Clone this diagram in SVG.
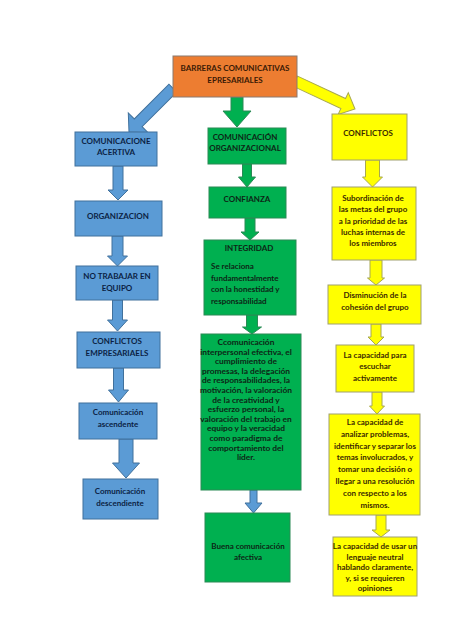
<svg xmlns="http://www.w3.org/2000/svg" width="474" height="632" viewBox="0 0 474 632">
<style>
text{font-family:Lato,"Liberation Sans",Arial,sans-serif;font-weight:bold;font-size:8px;text-anchor:middle}
.o rect{fill:#ED7D31;stroke:#8a7a70;stroke-width:1}
.o text{fill:#3a1a05}
.b rect{fill:#5B9BD5;stroke:#41719C;stroke-width:1}
.b text{fill:#0b1f44}
.g rect{fill:#00B050;stroke:#2a8a55;stroke-width:1}
.g text{fill:#0d2616}
.y rect{fill:#FFFF00;stroke:#a0a070;stroke-width:1}
.y text{fill:#3b2a00}
.ab{fill:#5B9BD5;stroke:#41719C;stroke-width:1}
.ag{fill:#00B050;stroke:#2a8a55;stroke-width:1}
.ay{fill:#FFFF00;stroke:#a8a850;stroke-width:1}
.l{text-anchor:start}
.big text{font-size:8.4px}
</style>
<rect width="474" height="632" fill="#ffffff"/>
<g id="connectors">
<polygon class="ab" transform="translate(129,132) rotate(135)" points="-62,-5.5 -13,-5.5 -13,-14 0,0 -13,14 -13,5.5 -62,5.5"/>
<polygon class="ay" transform="translate(355,109) rotate(25)" points="-66,-5.5 -13,-5.5 -13,-12 0,0 -13,12 -13,5.5 -66,5.5"/>
<polygon class="ag" points="231,97 243,97 243,111 251,111 237,127 223,111 231,111"/>
<polygon class="ab" points="113,166 123,166 123,190 128,190 118,200 108,190 113,190"/>
<polygon class="ab" points="112,236 123,236 123,256 127.5,256 117.5,266 107.5,256 112,256"/>
<polygon class="ab" points="112.5,300 122.5,300 122.5,320 127.5,320 117.5,331 107.5,320 112.5,320"/>
<polygon class="ab" points="113.5,368 123.5,368 123.5,390 128.5,390 118.5,402 108.5,390 113.5,390"/>
<polygon class="ab" points="119,439 133,439 133,463 139.5,463 126,478 112.5,463 119,463"/>
<polygon class="ag" points="242.5,164 251.5,164 251.5,177 255.5,177 247,187 238.5,177 242.5,177"/>
<polygon class="ag" points="245,218 255,218 255,232 259,232 250,240 241,232 245,232"/>
<polygon class="ag" points="246.5,315 257.5,315 257.5,327 261.5,327 252,334 242.5,327 246.5,327"/>
<polygon class="ab" points="250,490 257,490 257,503 262,503 253.5,513 245,503 250,503"/>
<polygon class="ay" points="365.5,160 379.5,160 379.5,177 382.5,177 372.5,187 362.5,177 365.5,177"/>
<polygon class="ay" points="370,260 382,260 382,278 384.5,278 376,285 367.5,278 370,278"/>
<polygon class="ay" points="371,324 381,324 381,337 384,337 376,345 368,337 371,337"/>
<polygon class="ay" points="372,392 382,392 382,406 384.5,406 377,414 369.5,406 372,406"/>
<polygon class="ay" points="376,515 386,515 386,530 390,530 381,537 372,530 376,530"/>
</g>
<g id="n-barreras" class="o"><rect x="173" y="56" width="124" height="41"/><text x="235" y="71">BARRERAS COMUNICATIVAS</text><text x="235" y="83">EPRESARIALES</text></g>
<g id="n-acertiva" class="b"><rect x="75" y="132" width="82" height="34"/><text x="116" y="144">COMUNICACIONE</text><text x="116" y="155">ACERTIVA</text></g>
<g id="n-organizacion" class="b"><rect x="75" y="201" width="87" height="35"/><text x="118" y="219">ORGANIZACION</text></g>
<g id="n-notrabajar" class="b"><rect x="76" y="266" width="82" height="34"/><text x="117" y="279">NO TRABAJAR EN</text><text x="117" y="291">EQUIPO</text></g>
<g id="n-conflictosemp" class="b"><rect x="77" y="332" width="83" height="36"/><text x="117" y="344">CONFLICTOS</text><text x="117" y="356">EMPRESARIAELS</text></g>
<g id="n-ascendente" class="b"><rect x="79" y="403" width="78" height="36"/><text x="118" y="415">Comunicación</text><text x="118" y="427">ascendente</text></g>
<g id="n-descendiente" class="b"><rect x="83" y="479" width="75" height="40"/><text x="120" y="494">Comunicación</text><text x="120" y="506">descendiente</text></g>
<g id="n-organizacional" class="g"><rect x="208" y="128" width="78" height="36"/><text x="245" y="140">COMUNICACIÓN</text><text x="245" y="151">ORGANIZACIONAL</text></g>
<g id="n-confianza" class="g"><rect x="209" y="187" width="77" height="31"/><text x="247" y="202">CONFIANZA</text></g>
<g id="n-integridad" class="g"><rect x="204" y="240" width="92" height="75"/><text x="249" y="251">INTEGRIDAD</text><text class="l" x="211" y="269">Se relaciona</text><text class="l" x="211" y="281">fundamentalmente</text><text class="l" x="211" y="292">con la honestidad y</text><text class="l" x="211" y="304">responsabilidad</text></g>
<g id="n-ccomunicacion" class="g big"><rect x="201" y="334" width="100" height="156"/>
<text x="246" y="345">Ccomunicación</text>
<text x="246" y="354.6">interpersonal efectiva, el</text>
<text x="246" y="364.2">cumplimiento de</text>
<text x="246" y="373.8">promesas, la delegación</text>
<text x="246" y="383.4">de responsabilidades, la</text>
<text x="246" y="393">motivación, la valoración</text>
<text x="246" y="402.6">de la creatividad y</text>
<text x="246" y="412.2">esfuerzo personal, la</text>
<text x="246" y="421.8">valoración del trabajo en</text>
<text x="246" y="431.4">equipo y la veracidad</text>
<text x="246" y="441">como paradigma de</text>
<text x="246" y="450.6">comportamiento del</text>
<text x="246" y="460.2">líder.</text></g>
<g id="n-buena" class="g"><rect x="205" y="513" width="85" height="69"/><text x="248" y="549">Buena comunicación</text><text x="248" y="560">afectiva</text></g>
<g id="n-conflictos" class="y"><rect x="332" y="114" width="75" height="46"/><text x="368" y="136">CONFLICTOS</text></g>
<g id="n-subordinacion" class="y"><rect x="332" y="187" width="84" height="73"/><text x="373" y="201">Subordinación de</text><text x="373" y="212">las metas del grupo</text><text x="373" y="224">a la prioridad de las</text><text x="373" y="235">luchas internas de</text><text x="373" y="246">los miembros</text></g>
<g id="n-disminucion" class="y"><rect x="328" y="285" width="93" height="39"/><text x="375" y="298">Disminución de la</text><text x="375" y="310">cohesión del grupo</text></g>
<g id="n-escuchar" class="y"><rect x="336" y="345" width="78" height="47"/><text x="375" y="358">La capacidad para</text><text x="375" y="369">escuchar</text><text x="375" y="381">activamente</text></g>
<g id="n-analizar" class="y"><rect x="329" y="414" width="91" height="101"/>
<text x="375" y="425">La capacidad de</text>
<text x="375" y="436.8">analizar problemas,</text>
<text x="375" y="448.6">identificar y separar los</text>
<text x="375" y="460.4">temas involucrados, y</text>
<text x="375" y="472.2">tomar una decisión o</text>
<text x="375" y="484">llegar a una resolución</text>
<text x="375" y="495.8">con respecto a los</text>
<text x="375" y="507.6">mismos.</text></g>
<g id="n-lenguaje" class="y"><rect x="333" y="537" width="84" height="59"/><text x="375" y="549">La capacidad de usar un</text><text x="375" y="559.5">lenguaje neutral</text><text x="375" y="570">hablando claramente,</text><text x="375" y="580.5">y, si se requieren</text><text x="375" y="591">opiniones</text></g>
</svg>
